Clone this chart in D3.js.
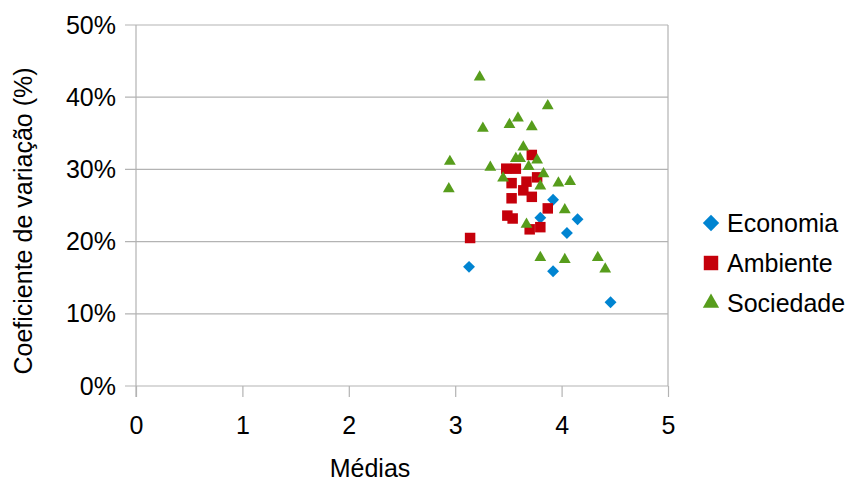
<!DOCTYPE html>
<html>
<head>
<meta charset="utf-8">
<script src="https://cdn.jsdelivr.net/npm/d3@7"></script>
<style>
  body { margin: 0; background: #fff; }
  svg { display: block; font-family: "Liberation Sans", Arial, sans-serif; }
</style>
</head>
<body>
<svg id="chart"></svg>
<script>
"use strict";

// data: [média, coeficiente de variação %]
const economia = [
    [3.13, 16.5], [3.92, 25.8], [3.80, 23.3], [4.15, 23.1],
    [4.05, 21.2], [3.92, 15.9], [4.46, 11.6]
];
const ambiente = [
    [3.14, 20.5], [3.72, 32.0], [3.48, 30.1], [3.57, 30.1], [3.53, 28.1],
    [3.67, 28.3], [3.77, 28.9], [3.64, 27.1], [3.53, 26.0], [3.72, 26.2],
    [3.87, 24.6], [3.49, 23.6], [3.54, 23.2], [3.70, 21.7], [3.80, 22.0]
];
const sociedade = [
    [3.23, 42.8], [3.87, 38.8], [3.59, 37.1], [3.51, 36.2], [3.26, 35.7],
    [3.72, 35.9], [3.64, 33.1], [3.57, 31.5], [3.61, 31.5], [3.77, 31.3],
    [2.95, 31.1], [3.33, 30.3], [3.69, 30.4], [3.83, 29.4], [3.45, 28.8],
    [3.97, 28.1], [4.08, 28.3], [2.94, 27.3], [3.80, 27.7], [4.03, 24.4],
    [3.67, 22.4], [3.80, 17.8], [4.03, 17.5], [4.34, 17.8], [4.41, 16.2]
];
const xTicks = [0, 1, 2, 3, 4, 5];
const yTicks = [0, 10, 20, 30, 40, 50];

const series = [
    { name: "Economia", data: economia, color: "#0084d1", shape: d3.symbolDiamond2, size: 90 },
    { name: "Ambiente", data: ambiente, color: "#c5000b", shape: d3.symbolSquare2, size: 140 },
    { name: "Sociedade", data: sociedade, color: "#579d1c", shape: d3.symbolTriangle2, size: 100 }
];

const width = 852;
const height = 481;
const marginLeft = 136, marginRight = 184, marginTop = 25, marginBottom = 95;
const fontSize = 25;

const svg = d3.select("#chart")
    .attr("width", width)
    .attr("height", height);

const x = d3.scaleLinear().domain([0, 5]).range([marginLeft, width - marginRight]);
const y = d3.scaleLinear().domain([0, 50]).range([height - marginBottom, marginTop]);

const gridColor = "#b3b3b3";

// horizontal gridlines
svg.append("g")
    .selectAll("line")
    .data(yTicks)
    .join("line")
    .attr("x1", marginLeft - 11)
    .attr("x2", width - marginRight)
    .attr("y1", d => y(d))
    .attr("y2", d => y(d))
    .attr("stroke", gridColor)
    .attr("stroke-width", 1.2);

// plot area left / right border
svg.append("line")
    .attr("x1", x(0)).attr("x2", x(0))
    .attr("y1", y(50)).attr("y2", y(0) + 11)
    .attr("stroke", gridColor).attr("stroke-width", 1.2);
svg.append("line")
    .attr("x1", x(5)).attr("x2", x(5))
    .attr("y1", y(50)).attr("y2", y(0))
    .attr("stroke", gridColor).attr("stroke-width", 1.2);

// x axis
svg.append("g")
    .attr("transform", `translate(0,${y(0)})`)
    .call(d3.axisBottom(x).tickValues(xTicks).tickFormat(d3.format("d")).tickSize(11).tickPadding(19))
    .call(g => g.select(".domain").remove())
    .call(g => g.selectAll(".tick line").attr("stroke", gridColor).attr("stroke-width", 1.2))
    .call(g => g.selectAll(".tick text")
        .attr("font-size", fontSize)
        .attr("fill", "#000")
        .attr("font-family", "Liberation Sans, Arial, sans-serif"));

// y axis labels
svg.append("g")
    .attr("transform", `translate(${marginLeft},0)`)
    .call(d3.axisLeft(y).tickValues(yTicks).tickFormat(d => d + "%").tickSize(0).tickPadding(20))
    .call(g => g.select(".domain").remove())
    .call(g => g.selectAll(".tick text")
        .attr("font-size", fontSize)
        .attr("fill", "#000")
        .attr("font-family", "Liberation Sans, Arial, sans-serif"));

// axis titles
svg.append("text")
    .attr("x", 370)
    .attr("y", 477)
    .attr("text-anchor", "middle")
    .attr("font-size", fontSize)
    .text("Médias");

svg.append("text")
    .attr("transform", "translate(32,221) rotate(-90)")
    .attr("text-anchor", "middle")
    .attr("font-size", fontSize)
    .text("Coeficiente de variação (%)");

// points
series.forEach(s => {
    const sym = d3.symbol().type(s.shape).size(s.size);
    svg.append("g")
        .selectAll("path")
        .data(s.data)
        .join("path")
        .attr("transform", d => `translate(${x(d[0])},${y(d[1])})`)
        .attr("d", sym)
        .attr("fill", s.color);
});

// legend
const legend = svg.append("g")
    .attr("transform", "translate(711,223)");

const legendItem = legend.selectAll("g")
    .data(series)
    .join("g")
    .attr("transform", (d, i) => `translate(0,${i * 40})`);

legendItem.append("path")
    .attr("d", d => d3.symbol().type(d.shape).size(d.size * 1.9)())
    .attr("fill", d => d.color);

legendItem.append("text")
    .attr("x", 16)
    .attr("y", 9)
    .attr("font-size", fontSize)
    .text(d => d.name);
</script>
</body>
</html>
